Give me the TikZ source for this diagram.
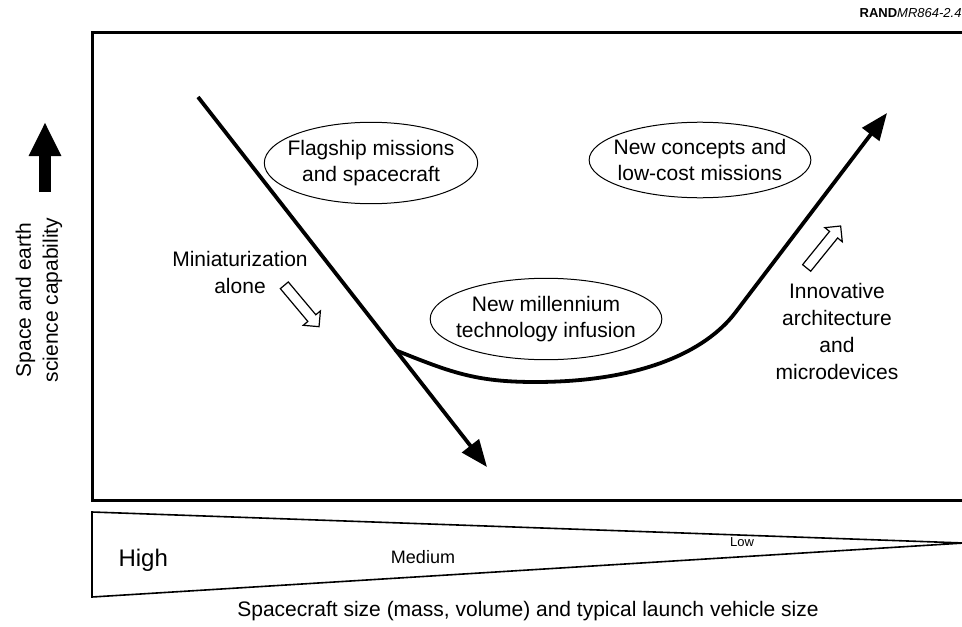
\documentclass[tikz,border=0pt]{standalone}
\usepackage{fontspec}
\setmainfont{Liberation Sans}
\usetikzlibrary{arrows.meta,shapes.geometric,shapes.arrows}

\begin{document}
\begin{tikzpicture}[x=.5pt, y=-.5pt, line width=.5,
    bubble/.style={ellipse, draw, line width=.5, align=center, inner xsep=-4pt, inner ysep=3pt, font=\fontsize{10.5}{13}\selectfont},
    lbl/.style={align=center, inner sep=0, font=\fontsize{10.5}{13.5}\selectfont},
    hollow/.style={single arrow, draw, line width=.6, minimum height=27pt, single arrow head extend=3pt, single arrow head indent=0pt, inner sep=2.3pt},
    bold/.style={line width=1.9, -{Triangle[length=13.5pt,width=10.5pt]}}]
    \useasboundingbox (0,0) rectangle (962,626);
    \draw[line width=1.5] (975,33) -- (92,33) -- (92,500) -- (975,500);
    \node[anchor=base east, inner sep=0, font=\fontsize{6.5}{8}\selectfont] (tag) at (962,18) {\textbf{RAND}\textit{MR864-2.4}};
    \coordinate (up0) at (45,192);
    \coordinate (up1) at (45,122);
    \draw[line width=6, -{Triangle[length=17pt,width=15pt]}] (up0) -- (up1);
    \node[lbl, rotate=90] (cap) at (39,300) {Space and earth\\science capability};
    \coordinate (mini0) at (198,97);
    \coordinate (mini1) at (487,467);
    \coordinate (knee) at (395,350);
    \coordinate (nmtip) at (887,113);
    \draw[bold] (mini0) -- (mini1);
    \draw[bold] (knee) .. controls (450,372) and (475,382) .. (535,382) .. controls (640,382) and (705,352) .. (735,313) -- (nmtip);
    \node[bubble] (flag) at (371,163) {Flagship missions\\and spacecraft};
    \node[bubble] (newc) at (700,160) {New concepts and\\low-cost missions};
    \node[bubble] (newm) at (546,319) {New millennium\\technology infusion};
    \node[lbl] (mini) at (240,272) {Miniaturization\\alone};
    \node[lbl] (innov) at (837,331) {Innovative\\architecture\\and\\microdevices};
    \node[hollow, rotate=-50] (down) at (300,304) {};
    \node[hollow, rotate=51] (rise) at (822,249) {};
    \draw[line width=.8] (92,512) -- (964,543) -- (92,597) -- cycle;
    \node[anchor=base west, inner sep=0, font=\fontsize{12}{14}\selectfont] (high) at (118,566) {High};
    \node[anchor=base, inner sep=0, font=\fontsize{9}{10}\selectfont] (med) at (423,563) {Medium};
    \node[anchor=base, inner sep=0, font=\fontsize{6.5}{8}\selectfont] (low) at (742,546) {Low};
    \node[lbl, anchor=base] (size) at (528,616) {Spacecraft size (mass, volume) and typical launch vehicle size};
\end{tikzpicture}
\end{document}
